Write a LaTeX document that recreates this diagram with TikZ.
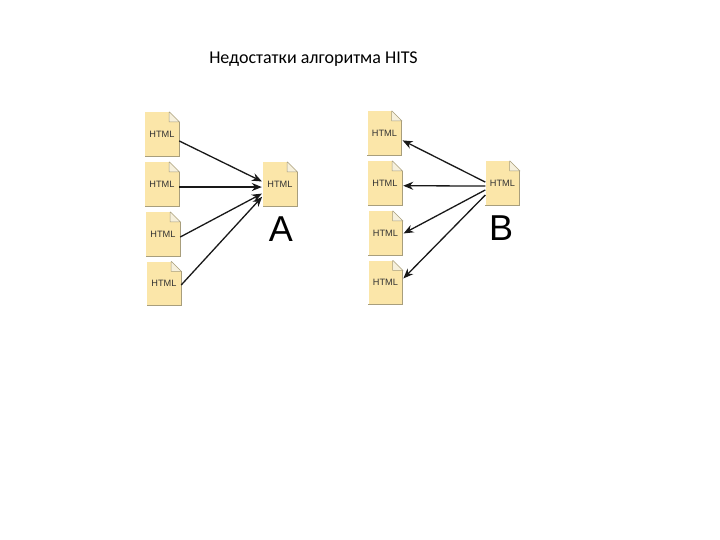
\documentclass[tikz,border=0pt]{standalone}
\usepackage{fontspec}
\setmainfont{Liberation Sans}
\newfontfamily\titlefont{Carlito}
\usetikzlibrary{arrows.meta}
\definecolor{docfill}{HTML}{FBE6A9}
\definecolor{docedge}{HTML}{A89E7C}
\definecolor{foldfill}{HTML}{F6F0DC}
\definecolor{labelink}{HTML}{333333}
\tikzset{
  x=1pt,y=-1pt,
  doc/.style={rectangle,fill=docfill,minimum width=34pt,minimum height=44pt,inner sep=0pt,
    font=\fontsize{9.2}{9.2}\selectfont,text=labelink},
  link/.style={draw=black!90,line width=1.3pt,-{Stealth[length=10pt,width=8pt]},shorten >=1pt},
  letter/.style={font=\fontsize{36}{36}\selectfont,text=black,inner sep=0pt},
  caption/.style={font=\titlefont\fontsize{18}{18}\selectfont,text=black,inner sep=0pt}
}
\begin{document}
\begin{tikzpicture}
\useasboundingbox (0,0) rectangle (720,540);
\fill[white] (0,0) rectangle (720,540);
\node[caption] (title) at (313.5,59) {Недостатки алгоритма HITS};
\node[doc] (a1) at (162,134) {HTML};
\node[doc] (a2) at (162,184) {HTML};
\node[doc] (a3) at (163,234) {HTML};
\node[doc] (a4) at (164,283.5) {HTML};
\node[doc] (A) at (280,184) {HTML};
\node[doc] (b1) at (384.5,133) {HTML};
\node[doc] (b2) at (385,183) {HTML};
\node[doc] (b3) at (385.5,233) {HTML};
\node[doc] (b4) at (385.5,282.5) {HTML};
\node[doc] (B) at (502.5,183) {HTML};
\node[letter] (la) at (281,229) {A};
\node[letter] (lb) at (501,228) {B};
\foreach \n in {a1,a2,a3,a4,A,b1,b2,b3,b4,B}{
  \fill[white] (\n.north east) ++(-10,-0.2) -- ++(10.2,0) -- ++(0,10.2) -- cycle;
  \fill[foldfill] (\n.north east) ++(-10,0) -- ++(10,10) -- ++(-10,0) -- cycle;
  \draw[docedge,line width=.5pt] (\n.north east) ++(-10,0) -- ++(0,10) -- ++(10,0) -- ++(-10,-10);
  \draw[docedge,line width=.7pt] (\n.north east) ++(0,10) -- (\n.south east) -- (\n.south west);
}
\draw[link] (a1.-22) -- (A.173);
\draw[link] (a2.-10) -- (A.190);
\draw[link] (a3.-10) -- (A.208);
\draw[link] (a4.-5) -- (A.215);
\draw[link] (B.177) -- (b1.-22);
\draw[link] (B.190) -- (b2.-9);
\draw[link] (B.202) -- (b3.-3);
\draw[link] (B.215) -- (b4.11);
\end{tikzpicture}
\end{document}
